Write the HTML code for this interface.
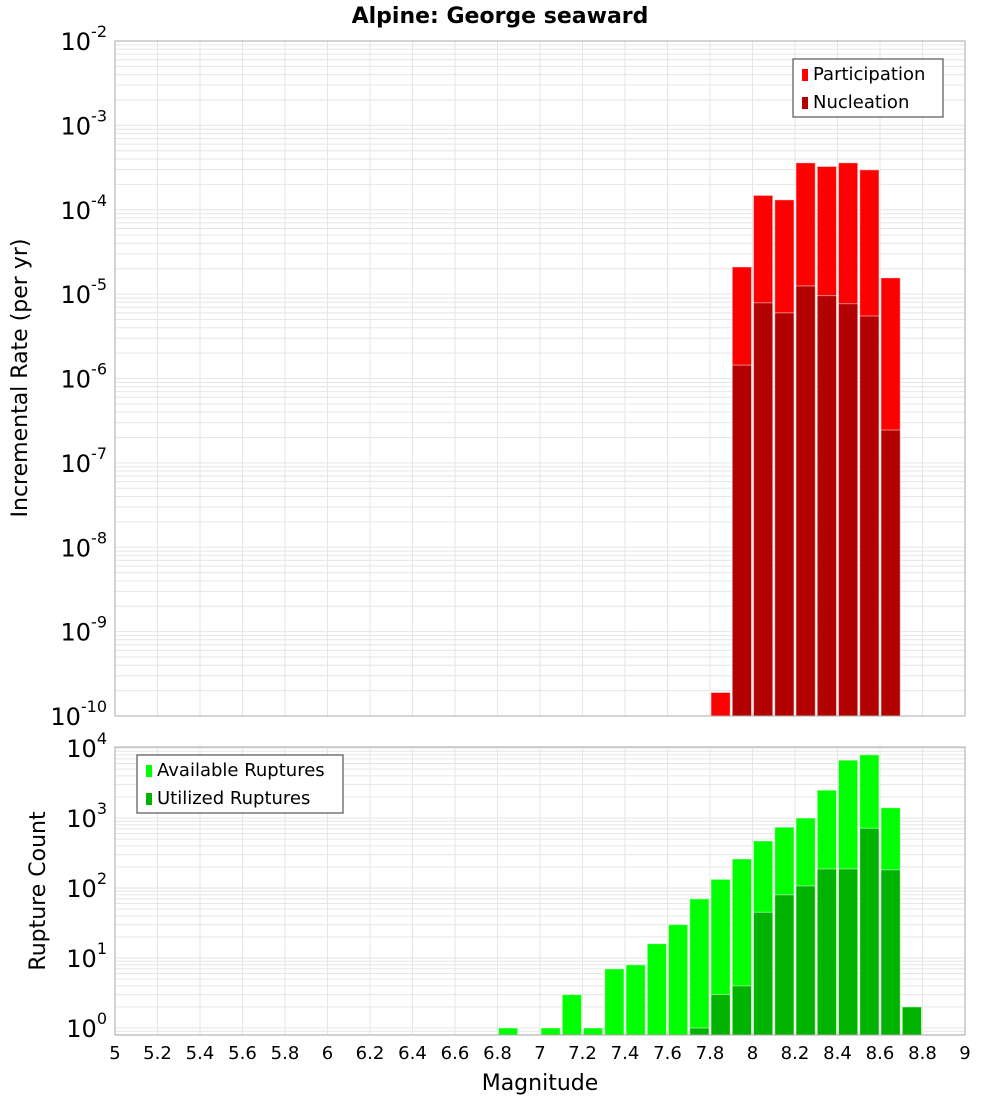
<!DOCTYPE html>
<html><head><meta charset="utf-8"><style>
body{margin:0;background:#fff;}
svg text{font-family:"DejaVu Sans","Liberation Sans",sans-serif;fill:#000;}
</style></head><body>
<svg id="c" width="1000" height="1100" xmlns="http://www.w3.org/2000/svg">
<text x="500" y="23" text-anchor="middle" font-weight="bold" font-size="22">Alpine: George seaward</text>
<g id="top"></g><g id="bot"></g>
</svg>
<script>
const binCenters=[6.85,6.95,7.05,7.15,7.25,7.35,7.45,7.55,7.65,7.75,7.85,7.95,8.05,8.15,8.25,8.35,8.45,8.55,8.65,8.75];
const participation=[0,0,0,0,0,0,0,0,0,0,1.9e-10,2.1e-5,1.48e-4,1.31e-4,3.6e-4,3.26e-4,3.6e-4,2.97e-4,1.56e-5,0];
const nucleation=[0,0,0,0,0,0,0,0,0,0,0,1.44e-6,7.9e-6,6.0e-6,1.25e-5,9.6e-6,7.7e-6,5.5e-6,2.45e-7,0];
const available=[1,0,1,3,1,7,8,16,30,70,133,260,470,740,1000,2500,6700,8000,1400,0];
const utilized=[0,0,0,0,0,0,0,0,0,1,3,4,45,80,107,187,187,713,182,2];
const xTicks=[5,5.2,5.4,5.6,5.8,6,6.2,6.4,6.6,6.8,7,7.2,7.4,7.6,7.8,8,8.2,8.4,8.6,8.8,9];
const topExps=[-2,-3,-4,-5,-6,-7,-8,-9,-10];
const botExps=[0,1,2,3,4];
const NS="http://www.w3.org/2000/svg";
const X0=115,X1=965;
const xs=m=>X0+(m-5)/4*(X1-X0);
function el(p,t,a){const e=document.createElementNS(NS,t);for(const k in a)e.setAttribute(k,a[k]);p.appendChild(e);return e;}
function panel(g,top,bot,ymaxExp,decPx,yAt,minExp,maxExp,series,colors,names,legend,prefix){
  const ys=v=>yAt-(Math.log10(v))*decPx;
  // grid
  for(let e=minExp-1;e<=maxExp;e++){for(let k=1;k<10;k++){const y=ys(k*Math.pow(10,e));if(y<top-0.5||y>bot+0.5)continue;
    const l=el(g,'line',{x1:X0,x2:X1,y1:y,y2:y,stroke:'#e6e6e6','stroke-width':1});
    }}
  xTicks.forEach(t=>{const l=el(g,'line',{x1:xs(t),x2:xs(t),y1:top,y2:bot,stroke:'#e6e6e6'});
    });
  series.forEach((s,si)=>{s.forEach((v,i)=>{if(!(v>0))return;
    const x=xs(binCenters[i]-0.05)+1,w=xs(binCenters[i]+0.05)-xs(binCenters[i]-0.05)-2;
    const y=Math.max(top,ys(v));
    const r=el(g,'rect',{x:x,y:y,width:w,height:bot-y,fill:colors[si],stroke:'rgba(255,255,255,0.5)','stroke-width':1});
    });});
  const f=el(g,'rect',{x:X0,y:top,width:X1-X0,height:bot-top,fill:'none',stroke:'#aaa'});
  
  // y tick labels
  for(let e=minExp;e<=maxExp;e++){const y=ys(Math.pow(10,e));
    const t=el(g,'text',{x:107,y:y+9,'text-anchor':'end','font-size':24});
    
    t.textContent='10';const ts=el(t,'tspan',{dy:-13,'font-size':16});ts.textContent=String(e);}
  // legend
  const lg=el(g,'g',{});
  el(lg,'rect',{x:legend.x,y:legend.y,width:legend.w,height:58,fill:'#fff',stroke:'#333'});
  legend.labels.forEach((lb,i)=>{el(lg,'rect',{x:legend.x+9,y:legend.y+10+i*28,width:6,height:12,fill:colors[i]});
    const t=el(lg,'text',{x:legend.x+20,y:legend.y+21+i*28,'font-size':18});
    t.textContent=lb;});
}
const gt=document.getElementById('top'),gb=document.getElementById('bot');
panel(gt,41,716,-2,84.375,716-10*84.375,-10,-2,[participation,nucleation],['#ff0000','#b30000'],['participation','nucleation'],
  {x:793,y:59,w:150,labels:['Participation','Nucleation']},'rate');
panel(gb,747,1035,4,70,1028,0,4,[available,utilized],['#00ff00','#00b300'],['available','utilized'],
  {x:137,y:755,w:206,labels:['Available Ruptures','Utilized Ruptures']},'count');
xTicks.forEach(t=>{const e=el(gb,'text',{x:xs(t),y:1059,'text-anchor':'middle','font-size':18});
  e.textContent=String(t);});
let t=el(gb,'text',{x:540,y:1090,'text-anchor':'middle','font-size':22});
t.textContent='Magnitude';
t=el(gt,'text',{x:0,y:0,'text-anchor':'middle','font-size':22,transform:'translate(27,378) rotate(-90)'});
t.textContent='Incremental Rate (per yr)';
t=el(gb,'text',{x:0,y:0,'text-anchor':'middle','font-size':22,transform:'translate(45,891) rotate(-90)'});
t.textContent='Rupture Count';
</script>
</body></html>
